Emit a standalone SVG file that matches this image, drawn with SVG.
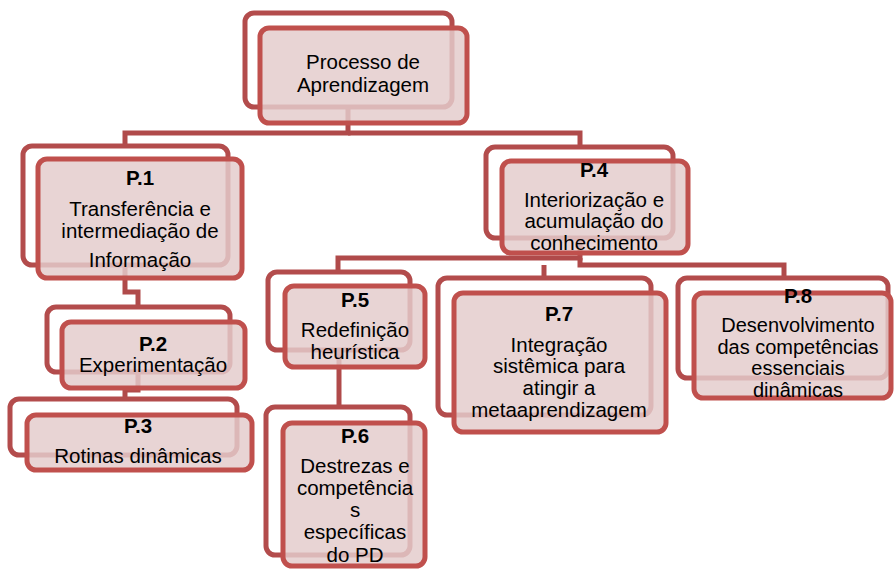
<svg xmlns="http://www.w3.org/2000/svg" width="896" height="569" viewBox="0 0 896 569">
<style>
.back{fill:#ffffff;stroke:#b34c4c;stroke-width:5}
.front{fill:rgb(228,204,204);fill-opacity:0.84;stroke:#c0504d;stroke-width:5}
.conn{fill:none;stroke:#b04a4a;stroke-width:5}
text{font-family:"Liberation Sans",Arial,sans-serif;font-size:20.5px;fill:#000;text-anchor:middle}
.t{font-weight:bold}
.s{font-size:20px}
</style>
<rect width="896" height="569" fill="#ffffff"/>
<g id="connectors">
<path class="conn" d="M348 107 V133 H125 V146"/>
<path class="conn" d="M348 133 H580 V147"/>
<path class="conn" d="M125 265 V292 H138 V307"/>
<path class="conn" d="M138 372 V390 H125 V399"/>
<path class="conn" d="M580 238 V258 H338 V272"/>
<path class="conn" d="M580 258 V265 H784 V278"/>
<path class="conn" d="M544 265 V278"/>
<path class="conn" d="M339 350 V407"/>
</g>
<g id="root">
<rect class="back" x="245" y="13" width="207" height="94" rx="9"/>
<rect class="front" x="260" y="28" width="207" height="95" rx="9"/>
<text x="363" y="69">Processo de</text>
<text x="363" y="92">Aprendizagem</text>
</g>
<g id="p1">
<rect class="back" x="23" y="146" width="205" height="119" rx="9"/>
<rect class="front" x="38" y="159" width="204" height="119" rx="9"/>
<text class="t" x="140" y="185">P.1</text>
<text x="140" y="216">Transferência e</text>
<text x="140" y="238">intermediação de</text>
<text x="140" y="267">Informação</text>
</g>
<g id="p2">
<rect class="back" x="47" y="307" width="183" height="65" rx="9"/>
<rect class="front" x="62" y="322" width="183" height="66" rx="9"/>
<text class="t" x="153" y="351">P.2</text>
<text x="153" y="372">Experimentação</text>
</g>
<g id="p3">
<rect class="back" x="10" y="399" width="227" height="56" rx="9"/>
<rect class="front" x="27" y="415" width="225" height="55" rx="9"/>
<text class="t" x="138" y="433">P.3</text>
<text x="138" y="463">Rotinas dinâmicas</text>
</g>
<g id="p4">
<rect class="back" x="486" y="147" width="187" height="91" rx="9"/>
<rect class="front" x="502" y="161" width="186" height="92" rx="9"/>
<text class="t" x="594" y="177">P.4</text>
<text x="594" y="207">Interiorização e</text>
<text x="594" y="228">acumulação do</text>
<text x="594" y="250">conhecimento</text>
</g>
<g id="p5">
<rect class="back" x="268" y="272" width="142" height="78" rx="9"/>
<rect class="front" x="285" y="286" width="140" height="81" rx="9"/>
<text class="t" x="355" y="307">P.5</text>
<text x="355" y="337">Redefinição</text>
<text x="355" y="359">heurística</text>
</g>
<g id="p6">
<rect class="back" x="266" y="407" width="144" height="148" rx="9"/>
<rect class="front" x="283" y="423" width="142" height="143" rx="9"/>
<text class="t" x="355" y="443">P.6</text>
<text x="355" y="473">Destrezas e</text>
<text x="355" y="495">competência</text>
<text x="355" y="517">s</text>
<text x="355" y="539">específicas</text>
<text x="355" y="562">do PD</text>
</g>
<g id="p7">
<rect class="back" x="438" y="278" width="213" height="137" rx="9"/>
<rect class="front" x="454" y="293" width="212" height="139" rx="9"/>
<text class="t" x="559" y="321">P.7</text>
<text x="559" y="352">Integração</text>
<text x="559" y="373">sistêmica para</text>
<text x="559" y="395">atingir a</text>
<text x="559" y="417">metaaprendizagem</text>
</g>
<g id="p8">
<rect class="back" x="678" y="278" width="210" height="100" rx="9"/>
<rect class="front" x="694" y="293" width="197" height="105" rx="9"/>
<text class="t" x="798" y="303">P.8</text>
<text class="s" x="798" y="332">Desenvolvimento</text>
<text class="s" x="798" y="354">das competências</text>
<text class="s" x="798" y="375">essenciais</text>
<text class="s" x="798" y="397">dinâmicas</text>
</g>
</svg>
